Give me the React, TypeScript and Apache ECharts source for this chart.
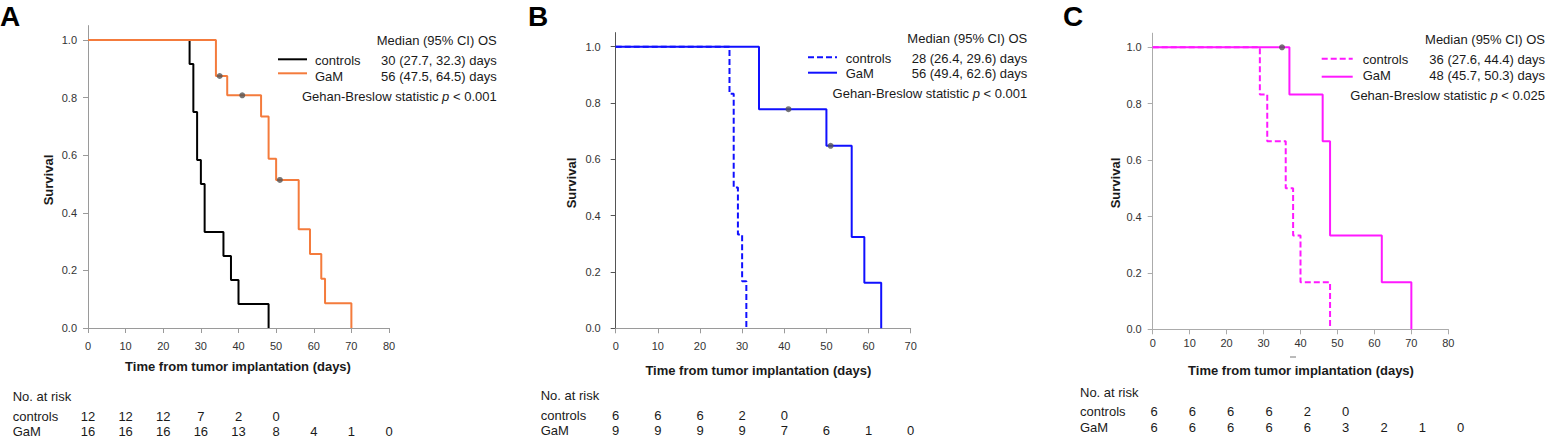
import React, { useEffect, useRef } from 'react';
import * as echarts from 'echarts';

const FONT = '"Liberation Sans", Arial, Helvetica, sans-serif';

// ---------- Panel A data ----------
const timesCtrlA = [0, 27, 28, 29, 30, 31, 36, 38, 40, 48];
const survCtrlA = [1, 0.917, 0.75, 0.583, 0.5, 0.333, 0.25, 0.167, 0.083, 0];
const timesGamA = [0, 34, 37, 46, 48, 50, 56, 59, 62, 63, 70];
const survGamA = [1, 0.875, 0.808, 0.734, 0.588, 0.514, 0.343, 0.257, 0.171, 0.086, 0];
const censorGamA = [[35, 0.875], [41, 0.808], [51, 0.514]];
const riskTimesA = [0, 10, 20, 30, 40, 50, 60, 70, 80];
const riskCtrlA = [12, 12, 12, 7, 2, 0];
const riskGamA = [16, 16, 16, 16, 13, 8, 4, 1, 0];

// ---------- Panel B data ----------
const timesCtrlB = [0, 27, 28, 29, 30, 31];
const survCtrlB = [1, 0.833, 0.5, 0.333, 0.167, 0];
const timesGamB = [0, 34, 50, 56, 59, 63];
const survGamB = [1, 0.778, 0.648, 0.324, 0.162, 0];
const censorGamB = [[41, 0.778], [51, 0.648]];
const riskTimesB = [0, 10, 20, 30, 40, 50, 60, 70];
const riskCtrlB = [6, 6, 6, 2, 0];
const riskGamB = [9, 9, 9, 9, 7, 6, 1, 0];

// ---------- Panel C data ----------
const timesCtrlC = [0, 29, 31, 36, 38, 40, 48];
const survCtrlC = [1, 0.833, 0.667, 0.5, 0.333, 0.167, 0];
const timesGamC = [0, 37, 46, 48, 62, 70];
const survGamC = [1, 0.833, 0.667, 0.333, 0.167, 0];
const censorGamC = [[35, 1.0]];
const riskTimesC = [0, 10, 20, 30, 40, 50, 60, 70, 80];
const riskCtrlC = [6, 6, 6, 6, 2, 0];
const riskGamC = [6, 6, 6, 6, 6, 3, 2, 1, 0];

const yTickValues = [0, 0.2, 0.4, 0.6, 0.8, 1.0];

const legendA = { ctrl: '30 (27.7, 32.3) days', gam: '56 (47.5, 64.5) days', p: '0.001' };
const legendB = { ctrl: '28 (26.4, 29.6) days', gam: '56 (49.4, 62.6) days', p: '0.001' };
const legendC = { ctrl: '36 (27.6, 44.4) days', gam: '48 (45.7, 50.3) days', p: '0.025' };

const ORANGE = '#F47B3C';
const BLUE = '#1010FF';
const MAGENTA = '#FF19FF';
const DOT = '#555555';
const TEXT = '#1a1a1a';

function km(times: number[], surv: number[]) {
  return times.map((t, i) => [t, surv[i]]);
}

function risk(times: number[], counts: number[], row: number) {
  return counts.map((c, i) => [times[i], row, c]);
}

export default function App() {
  const ref = useRef<HTMLDivElement>(null);

  useEffect(() => {
    if (!ref.current) return;
    const chart = echarts.init(ref.current, null, { renderer: 'svg' });

    const plotGrids = [
      { left: 88, top: 25.6, width: 301, height: 302.4 },
      { left: 615.7, top: 32.6, width: 295, height: 295.7 },
      { left: 1152.7, top: 33.2, width: 295.6, height: 296.1 },
    ];
    const riskGrids = [
      { left: 88, top: 416, width: 301, height: 15 },
      { left: 615.7, top: 415.7, width: 295, height: 15 },
      { left: 1154, top: 411.7, width: 306.7, height: 16 },
    ];
    const xMax = [80, 70, 80];
    const axisColors = [
      { x: '#9a9a9a', y: '#9a9a9a' },
      { x: '#9a9a9a', y: '#555555' },
      { x: '#ababab', y: '#ababab' },
    ];
    const xLabelMargin = [12, 12, 8];
    const yLabelMargin = [11, 15, 11];

    const xAxes: any[] = [];
    const yAxes: any[] = [];
    for (let i = 0; i < 3; i++) {
      xAxes.push({
        type: 'value', gridIndex: i, min: 0, max: xMax[i], interval: 10,
        splitLine: { show: false },
        axisLine: { lineStyle: { color: axisColors[i].x, width: 1 } },
        axisTick: { length: 5, lineStyle: { color: axisColors[i].x } },
        axisLabel: { color: '#333', fontSize: 11, fontFamily: FONT, margin: xLabelMargin[i] },
      });
      yAxes.push({
        type: 'value', gridIndex: i, min: 0, max: 1.05,
        splitLine: { show: false },
        axisLine: { show: true, lineStyle: { color: axisColors[i].y, width: 1 } },
        axisTick: { show: true, length: 5, customValues: yTickValues, lineStyle: { color: axisColors[i].y } },
        axisLabel: {
          color: '#333', fontSize: 11, fontFamily: FONT, margin: yLabelMargin[i],
          customValues: yTickValues, formatter: (v: number) => v.toFixed(1),
        },
      });
    }
    for (let i = 0; i < 3; i++) {
      xAxes.push({ type: 'value', gridIndex: 3 + i, min: 0, max: xMax[i], show: false });
      yAxes.push({ type: 'value', gridIndex: 3 + i, min: 0, max: 1, show: false });
    }

    const lineSeries = (idx: number, data: number[][], color: string, dashed: boolean) => ({
      type: 'line', xAxisIndex: idx, yAxisIndex: idx, data, step: 'end', showSymbol: false,
      symbol: 'none', lineStyle: { color, width: 2, type: dashed ? [6, 3] : 'solid' },
      silent: true,
    });
    const dotSeries = (idx: number, data: number[][]) => ({
      type: 'scatter', xAxisIndex: idx, yAxisIndex: idx, data, symbolSize: 6,
      itemStyle: { color: DOT }, z: 5,
    });
    const riskSeries = (idx: number, data: number[][]) => ({
      type: 'scatter', xAxisIndex: 3 + idx, yAxisIndex: 3 + idx, data, symbolSize: 1,
      itemStyle: { color: 'rgba(255,255,255,0)' },
      label: {
        show: true, position: 'inside', formatter: (p: any) => String(p.data[2]),
        color: TEXT, fontSize: 13, fontFamily: FONT, textBorderWidth: 0, opacity: 1,
      },
      labelLayout: { hideOverlap: false },
    });

    const series: any[] = [
      lineSeries(0, km(timesCtrlA, survCtrlA), '#000000', false),
      lineSeries(0, km(timesGamA, survGamA), ORANGE, false),
      dotSeries(0, censorGamA),
      lineSeries(1, km(timesCtrlB, survCtrlB), BLUE, true),
      lineSeries(1, km(timesGamB, survGamB), BLUE, false),
      dotSeries(1, censorGamB),
      lineSeries(2, km(timesCtrlC, survCtrlC), MAGENTA, true),
      lineSeries(2, km(timesGamC, survGamC), MAGENTA, false),
      dotSeries(2, censorGamC),
      riskSeries(0, risk(riskTimesA, riskCtrlA, 1)),
      riskSeries(0, risk(riskTimesA, riskGamA, 0)),
      riskSeries(1, risk(riskTimesB, riskCtrlB, 1)),
      riskSeries(1, risk(riskTimesB, riskGamB, 0)),
      riskSeries(2, risk(riskTimesC, riskCtrlC, 1)),
      riskSeries(2, risk(riskTimesC, riskGamC, 0)),
    ];

    const txt = (text: string, x: number, y: number, opts: any = {}) => ({
      type: 'text', x, y, rotation: opts.rotation || 0, silent: true,
      style: {
        text, fill: opts.fill || TEXT,
        font: opts.font || `13px ${FONT}`,
        textAlign: opts.align || 'left', textVerticalAlign: 'middle',
      },
    });
    const pText = (p: string, xRight: number, y: number) => ({
      type: 'text', x: xRight, y, silent: true,
      style: {
        text: `{a|Gehan-Breslow statistic }{i|p}{a| < ${p}}`,
        textAlign: 'right', textVerticalAlign: 'middle',
        rich: {
          a: { fontSize: 13, fontFamily: FONT, fill: TEXT, color: TEXT },
          i: { fontSize: 13, fontFamily: FONT, fontStyle: 'italic', fill: TEXT, color: TEXT },
        },
      },
    });
    const seg = (x1: number, x2: number, y: number, color: string, dashed: boolean) => ({
      type: 'line', silent: true,
      shape: { x1, y1: y, x2, y2: y },
      style: { stroke: color, lineWidth: 2, lineDash: dashed ? [6, 3] : null },
    });

    const legend = (
      xr: number, yMed: number, lx1: number, lx2: number, yC: number, yG: number,
      tx: number, yCt: number, yGt: number, yP: number, color1: string, color2: string,
      dashed: boolean, vals: any,
    ) => [
      txt('Median (95% CI) OS', xr, yMed, { align: 'right' }),
      seg(lx1, lx2, yC, color1, dashed),
      seg(lx1, lx2, yG, color2, false),
      txt('controls', tx, yCt),
      txt('GaM', tx, yGt),
      txt(vals.ctrl, xr, yCt, { align: 'right' }),
      txt(vals.gam, xr, yGt, { align: 'right' }),
      pText(vals.p, xr, yP),
    ];

    const bold13 = `bold 13px ${FONT}`;
    const graphic: any[] = [
      txt('A', 0, 16, { font: `bold 28px ${FONT}`, fill: '#000' }),
      txt('B', 528, 16, { font: `bold 28px ${FONT}`, fill: '#000' }),
      txt('C', 1063, 16, { font: `bold 28px ${FONT}`, fill: '#000' }),
      txt('Survival', 48, 180, { font: bold13, align: 'center', rotation: Math.PI / 2 }),
      txt('Survival', 571.7, 183, { font: bold13, align: 'center', rotation: Math.PI / 2 }),
      txt('Survival', 1115, 183, { font: bold13, align: 'center', rotation: Math.PI / 2 }),
      txt('Time from tumor implantation (days)', 238, 366, { font: bold13, align: 'center' }),
      txt('Time from tumor implantation (days)', 758.3, 370, { font: bold13, align: 'center' }),
      txt('Time from tumor implantation (days)', 1301, 370, { font: bold13, align: 'center' }),
      { type: 'line', silent: true, shape: { x1: 1290, y1: 357, x2: 1296, y2: 357 }, style: { stroke: '#777', lineWidth: 1 } },
      txt('No. at risk', 12.7, 396),
      txt('controls', 12.7, 416),
      txt('GaM', 12.7, 431),
      txt('No. at risk', 540.7, 395.7),
      txt('controls', 540.7, 415.7),
      txt('GaM', 540.7, 430.7),
      txt('No. at risk', 1080, 392),
      txt('controls', 1080, 411.7),
      txt('GaM', 1080, 427.7),
      ...legend(496.7, 40, 278, 307, 59.3, 73.3, 315, 60, 76, 96, '#000', ORANGE, false, legendA),
      ...legend(1027.3, 38.3, 808, 837, 57.3, 72.7, 845.7, 58.7, 73.5, 93.3, BLUE, BLUE, true, legendB),
      ...legend(1545, 39.3, 1321.7, 1352.7, 58.7, 76.7, 1362.7, 59.3, 75, 95, MAGENTA, MAGENTA, true, legendC),
    ];

    chart.setOption({
      animation: false,
      backgroundColor: '#ffffff',
      grid: [...plotGrids, ...riskGrids],
      xAxis: xAxes,
      yAxis: yAxes,
      series,
      graphic,
    });

    return () => chart.dispose();
  }, []);

  return (
    <div
      ref={ref}
      style={{ position: 'absolute', left: 0, top: 0, width: 1550, height: 441, background: '#fff' }}
    />
  );
}
